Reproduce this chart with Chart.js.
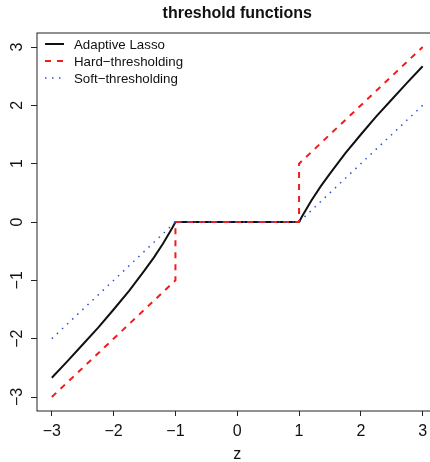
<!DOCTYPE html>
<html>
<head>
<meta charset="utf-8">
<script src="https://cdn.jsdelivr.net/npm/chart.js@4/dist/chart.umd.min.js"></script>
<style>
  html, body { margin: 0; padding: 0; background: #fff; overflow: hidden; }
  #wrap { position: relative; width: 446px; height: 462px; }
</style>
</head>
<body>
<div id="wrap"><canvas id="chart"></canvas></div>
<script>
// values
const zLasso = [-3, -2.75, -2.5, -2.25, -2, -1.75, -1.5, -1.35, -1.2, -1.1, -1.05, -1, 1, 1.05, 1.1, 1.2, 1.35, 1.5, 1.75, 2, 2.25, 2.5, 2.75, 3]
const lasso = [-2.67, -2.39, -2.1, -1.81, -1.5, -1.18, -0.83, -0.61, -0.37, -0.19, -0.1, 0, 0, 0.1, 0.19, 0.37, 0.61, 0.83, 1.18, 1.5, 1.81, 2.1, 2.39, 2.67]
const zHard = [-3, -1, -1, 1, 1, 3]
const hard = [-3, -1, 0, 0, 1, 3]
const zSoft = [-3, -1, 1, 3]
const soft = [-2, 0, 0, 2]
const tickValues = [-3, -2, -1, 0, 1, 2, 3]
const seriesNames = ["Adaptive Lasso", "Hard\u2212thresholding", "Soft\u2212thresholding"]

const FONT = "'Liberation Sans', Arial, Helvetica, sans-serif"
const fmt = (v) => (v < 0 ? "\u2212" + Math.abs(v) : String(v))
const pts = (xs, ys) => xs.map((x, i) => ({ x: x, y: ys[i] }))

const framePlugin = {
  id: "frame",
  afterDraw(chart) {
    const { ctx, chartArea: a, scales } = chart
    ctx.save()
    // box
    ctx.strokeStyle = "#222"
    ctx.lineWidth = 1
    ctx.strokeRect(a.left, a.top, a.right - a.left, a.bottom - a.top)
    // title
    ctx.fillStyle = "#111"
    ctx.font = "bold 16px " + FONT
    ctx.textAlign = "center"
    ctx.textBaseline = "middle"
    ctx.fillText("threshold functions", (a.left + a.right) / 2, 14)
    // rotated y tick labels
    ctx.font = "16px " + FONT
    tickValues.forEach((v) => {
      const y = scales.y.getPixelForValue(v)
      ctx.save()
      ctx.translate(17.5, y)
      ctx.rotate(-Math.PI / 2)
      ctx.fillText(fmt(v), 0, 0)
      ctx.restore()
    })
    // legend
    const rows = [44, 61, 78]
    ctx.font = "13.3px " + FONT
    ctx.textAlign = "left"
    chart.data.datasets.forEach((ds, i) => {
      ctx.beginPath()
      ctx.strokeStyle = ds.borderColor
      ctx.lineWidth = ds.borderWidth
      ctx.setLineDash(ds.borderDash || [])
      ctx.moveTo(45, rows[i])
      ctx.lineTo(64, rows[i])
      ctx.stroke()
      ctx.setLineDash([])
      ctx.fillStyle = "#111"
      ctx.fillText(seriesNames[i], 74, rows[i] + 1)
    })
    ctx.restore()
  },
}

new Chart(document.getElementById("chart"), {
  type: "scatter",
  data: {
    datasets: [
      {
        label: seriesNames[0],
        data: pts(zLasso, lasso),
        showLine: true,
        borderColor: "#111",
        borderWidth: 2,
        pointRadius: 0,
        order: 3,
      },
      {
        label: seriesNames[1],
        data: pts(zHard, hard),
        showLine: true,
        borderColor: "#f21c1c",
        borderWidth: 2,
        borderDash: [6, 6],
        pointRadius: 0,
        order: 2,
      },
      {
        label: seriesNames[2],
        data: pts(zSoft, soft),
        showLine: true,
        borderColor: "#2a4fd6",
        borderWidth: 1.5,
        borderDash: [1.5, 5.5],
        pointRadius: 0,
        order: 1,
      },
    ],
  },
  options: {
    responsive: true,
    maintainAspectRatio: false,
    animation: false,
    layout: { padding: { top: 33, right: 8.5, left: 0, bottom: 0 } },
    plugins: { legend: { display: false }, tooltip: { enabled: false } },
    scales: {
      x: {
        type: "linear",
        min: -3.24,
        max: 3.24,
        afterBuildTicks: (scale) => {
          scale.ticks = tickValues.map((v) => ({ value: v }))
        },
        afterFit: (scale) => {
          scale.height = 51
        },
        grid: { drawOnChartArea: false, drawTicks: true, tickLength: 5, color: "#222" },
        border: { display: false },
        ticks: {
          color: "#111",
          font: { family: FONT, size: 16 },
          padding: 6,
          maxRotation: 0,
          callback: (v) => fmt(v),
        },
        title: {
          display: true,
          text: "z",
          color: "#111",
          font: { family: FONT, size: 16 },
          padding: { top: 0, bottom: -2 },
        },
      },
      y: {
        type: "linear",
        min: -3.24,
        max: 3.24,
        afterBuildTicks: (scale) => {
          scale.ticks = tickValues.map((v) => ({ value: v }))
        },
        afterFit: (scale) => {
          scale.width = 37
        },
        grid: { drawOnChartArea: false, drawTicks: true, tickLength: 6, color: "#222" },
        border: { display: false },
        ticks: { display: false },
      },
    },
  },
  plugins: [framePlugin],
})
</script>
</body>
</html>
